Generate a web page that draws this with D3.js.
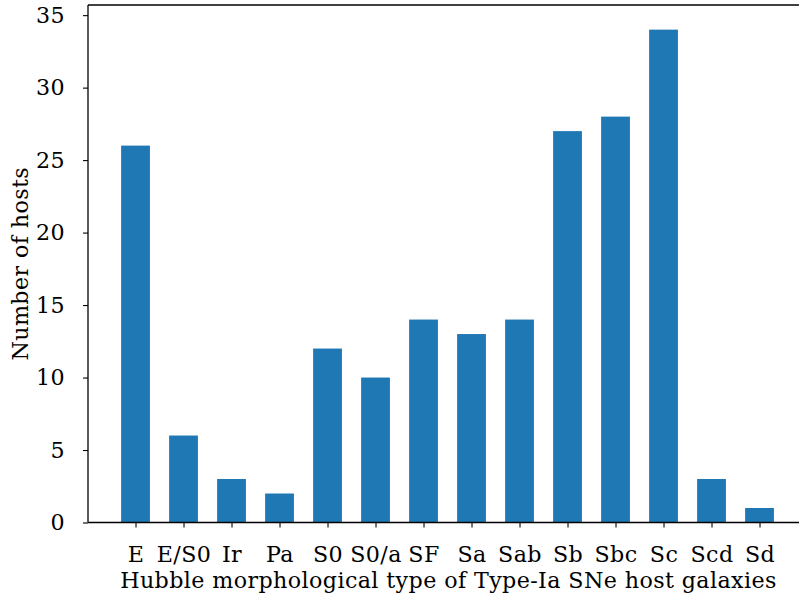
<!DOCTYPE html>
<html><head><meta charset="utf-8">
<script src="https://cdn.jsdelivr.net/npm/d3@7"></script>
<style>html,body{margin:0;padding:0;background:#fff;overflow:hidden}</style>
</head><body>
<script>
const categories = ["E","E/S0","Ir","Pa","S0","S0/a","SF","Sa","Sab","Sb","Sbc","Sc","Scd","Sd"];
const counts = [26,6,3,2,12,10,14,13,14,27,28,34,3,1];
const yTicks = [0,5,10,15,20,25,30,35];

(function(){
const W = 799, H = 596;
const mLeft = 88, mRight = 808, mTop = 5, mBottom = 522.5;
const font = "DejaVu Serif";
const fs = 22.2;
const ls = "0.4px";

const svg = d3.select("body").append("svg").attr("width", W).attr("height", H)
  .style("font-family", font);

const x = d3.scaleLinear().domain([-0.99, 14.01]).range([mLeft, mRight]);
const y = d3.scaleLinear().domain([0, 35.7]).range([mBottom, mTop]);
const barW = x(0.6) - x(0);

svg.append("g").selectAll("rect").data(counts).join("rect")
  .attr("x", (d,i) => x(i) - barW/2)
  .attr("width", barW)
  .attr("y", d => y(d))
  .attr("height", d => y(0) - y(d))
  .attr("fill", "#1f77b4");

const yAxis = d3.axisLeft(y).tickValues(yTicks).tickSize(5).tickPadding(18).tickFormat(d3.format("d"));
const gy = svg.append("g").attr("transform", `translate(${mLeft},0)`).call(yAxis)
  .attr("font-size", fs).attr("font-family", font);
gy.select(".domain").remove();
gy.selectAll(".tick line").attr("stroke", "#000").attr("stroke-width", 1.1);
gy.selectAll(".tick text").style("font-size", fs + "px").style("font-family", font)
  .style("letter-spacing", ls).attr("fill", "#000");

const xAxis = d3.axisBottom(x).tickValues(d3.range(categories.length)).tickSize(5).tickPadding(18.4)
  .tickFormat(i => categories[i]);
const gx = svg.append("g").attr("transform", `translate(0,${mBottom})`).call(xAxis)
  .attr("font-size", fs).attr("font-family", font);
gx.select(".domain").remove();
gx.selectAll(".tick line").attr("stroke", "#000").attr("stroke-width", 1.1);
gx.selectAll(".tick text").style("font-size", fs + "px").style("font-family", font)
  .style("letter-spacing", ls).attr("fill", "#000");

svg.append("line").attr("x1", mLeft).attr("x2", mLeft).attr("y1", mTop).attr("y2", mBottom)
  .attr("stroke", "#000").attr("stroke-width", 1.3);
svg.append("line").attr("x1", mLeft).attr("x2", mRight).attr("y1", mBottom).attr("y2", mBottom)
  .attr("stroke", "#000").attr("stroke-width", 1.3);
svg.append("line").attr("x1", mLeft).attr("x2", mRight).attr("y1", mTop).attr("y2", mTop)
  .attr("stroke", "#000").attr("stroke-width", 1.3);

svg.append("text").attr("x", 448.5).attr("y", 588)
  .attr("text-anchor", "middle").style("font-size", fs + "px").style("letter-spacing", ls).attr("fill", "#000")
  .text("Hubble morphological type of Type-Ia SNe host galaxies");
svg.append("text").attr("transform", `translate(27.5,${(mTop+mBottom)/2}) rotate(-90)`)
  .attr("text-anchor", "middle").style("font-size", fs + "px").style("letter-spacing", ls).attr("fill", "#000")
  .text("Number of hosts");
})();
</script>
</body></html>
